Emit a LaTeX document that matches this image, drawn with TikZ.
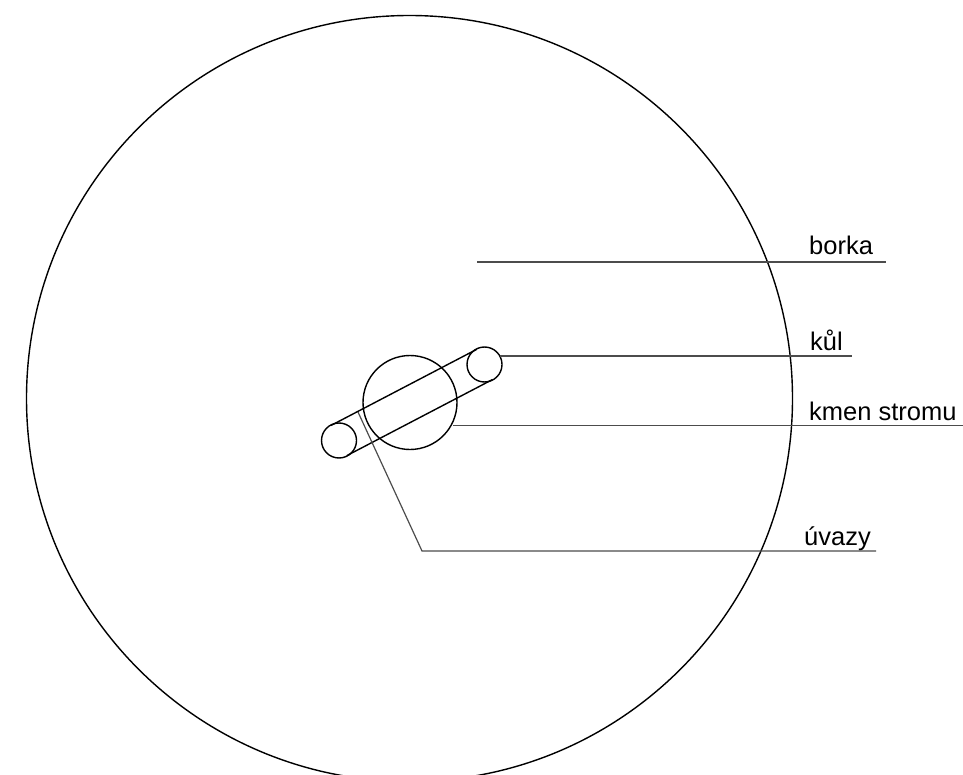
\documentclass[tikz,border=0pt]{standalone}
\usepackage{fontspec}
\setmainfont{Liberation Sans}
\usetikzlibrary{calc}
\begin{document}
\begin{tikzpicture}[x=1pt,y=-1pt,
  outline/.style={draw=black,line width=1.4pt},
  leader/.style={draw=black!70,line width=1.2pt},
  lbl/.style={font=\fontsize{25.5pt}{30pt}\selectfont,inner sep=0pt,anchor=base west}]
\clip (0,0) rectangle (963,775);
% bark (outer circle)
\node[outline,circle,minimum size=766pt,inner sep=0pt] (bark) at (409.5,398.5) {};
% trunk
\node[outline,circle,minimum size=94pt,inner sep=0pt] (trunk) at (410,402.5) {};
% stake ends
\node[outline,circle,minimum size=35pt,inner sep=0pt] (endA) at (339,440.5) {};
\node[outline,circle,minimum size=35pt,inner sep=0pt] (endB) at (484.5,364.5) {};
% stake sides
\coordinate (uA) at ($(339,440.5)+(-7.9,-15.1)$);
\coordinate (uB) at ($(484.5,364.5)+(-7.9,-15.1)$);
\coordinate (lA) at ($(339,440.5)+(7.9,15.1)$);
\coordinate (lB) at ($(484.5,364.5)+(7.9,15.1)$);
\draw[outline] (uA) -- (uB);
\draw[outline] (lA) -- (lB);
% labels
\node[lbl] (tBorka) at (809,255) {borka};
\node[lbl] (tKul) at (810,350) {kůl};
\node[lbl] (tKmen) at (809,420) {kmen stromu};
\node[lbl] (tUvazy) at (804,545) {úvazy};
% leader lines
\coordinate (b0) at (477,262);
\coordinate (b1) at (886,262);
\draw[leader] (b0) -- (b1);
\coordinate (k0) at (500,356);
\coordinate (k1) at (852,356);
\draw[leader] (k0) -- (k1);
\coordinate (m0) at (453,425.5);
\coordinate (m1) at (963,425.5);
\draw[leader] (m0) -- (m1);
\coordinate (u0) at (358,412);
\coordinate (u1) at (422,551);
\coordinate (u2) at (876,551);
\draw[leader] (u0) -- (u1) -- (u2);
\end{tikzpicture}
\end{document}
